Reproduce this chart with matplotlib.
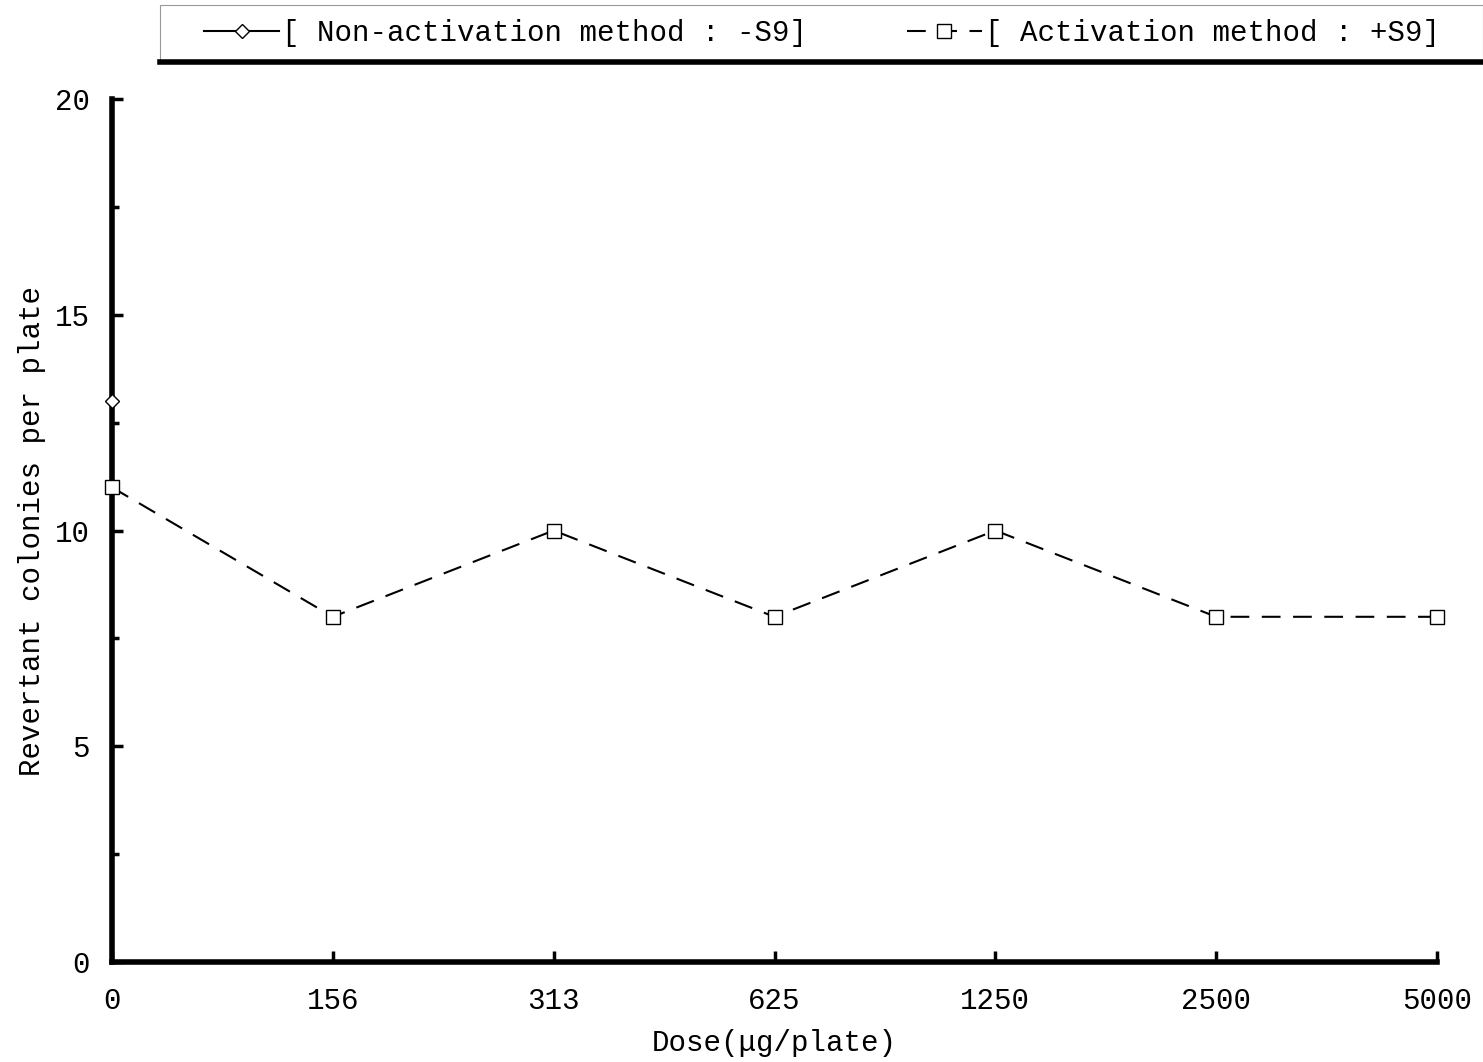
import matplotlib.pyplot as plt
from matplotlib.lines import Line2D
from matplotlib.patches import Rectangle

doses = ["0", "156", "313", "625", "1250", "2500", "5000"]
minus_s9 = [13]
plus_s9 = [11, 8, 10, 8, 10, 8, 8]

plt.rcParams["font.family"] = ["Liberation Mono", "DejaVu Sans Mono"]

fig = plt.figure(figsize=(14.83, 10.62), dpi=100)
ax = fig.add_axes([112 / 1483, 100 / 1062, (1437 - 112) / 1483, (962 - 99) / 1062])

x = list(range(len(doses)))
ax.plot(x[:len(minus_s9)], minus_s9, color="black", lw=1.5, marker="D",
        markersize=7, markerfacecolor="white", markeredgecolor="black",
        label="[ Non-activation method : -S9]", clip_on=False, zorder=4)
ax.plot(x, plus_s9, color="black", lw=1.5, ls=(0, (9, 6)), marker="s",
        markersize=10, markerfacecolor="white", markeredgecolor="black",
        label="[ Activation method : +S9]", clip_on=False, zorder=3)

ax.set_xlim(0, len(doses) - 1)
ax.set_ylim(0, 20)
ax.set_xticks(x)
ax.set_xticklabels(doses)
ax.set_yticks([0, 5, 10, 15, 20])
ax.set_yticks([2.5, 7.5, 12.5, 17.5], minor=True)
ax.tick_params(axis="both", which="both", direction="in", width=2.5,
               labelsize=21, colors="black")
ax.tick_params(axis="x", which="major", length=8, pad=18)
ax.tick_params(axis="y", which="major", length=8, pad=16)
ax.tick_params(axis="y", which="minor", length=5)

for side in ["top", "right"]:
    ax.spines[side].set_visible(False)
ax.spines["left"].set_linewidth(4)
ax.spines["bottom"].set_linewidth(4)

ax.set_xlabel("Dose(\u03bcg/plate)", fontsize=21, labelpad=10)
ax.set_ylabel("Revertant colonies per plate", fontsize=21, labelpad=6)

# legend box across the top
fig.add_artist(Rectangle((160 / 1483, 1 - 62 / 1062), 1 - 160 / 1483, 57 / 1062,
                         transform=fig.transFigure, fill=False,
                         edgecolor="#999999", lw=0.8))
fig.add_artist(Line2D([160 / 1483, 1], [1 - 62 / 1062] * 2,
                      transform=fig.transFigure, color="black", lw=4))
fig.legend(loc="center", bbox_to_anchor=(822 / 1483, 1 - 33 / 1062), ncol=2,
           frameon=False, fontsize=21, handlelength=2.6, handletextpad=0.1,
           columnspacing=3.4)

fig.savefig("out.png", dpi=100)
